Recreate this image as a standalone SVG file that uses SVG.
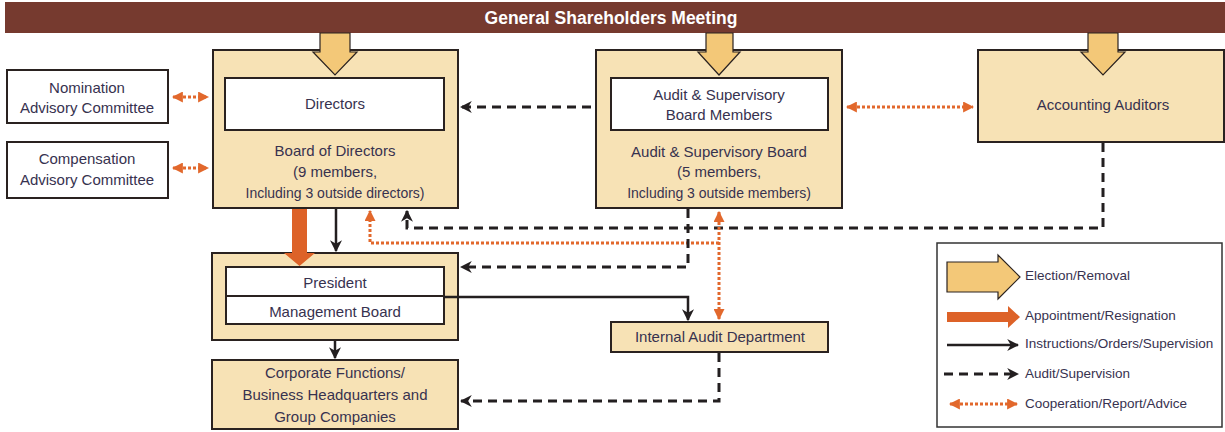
<svg xmlns="http://www.w3.org/2000/svg" width="1225" height="432" viewBox="0 0 1225 432">
<defs>
<style>
.t{font-family:"Liberation Sans Narrow","Liberation Sans",sans-serif;font-size:15px;fill:#37324f;text-anchor:middle}
.tl{font-family:"Liberation Sans Narrow","Liberation Sans",sans-serif;font-size:13.5px;fill:#37324f}
.box{fill:#f7e2b5;stroke:#2a2220;stroke-width:2}
.wbox{fill:#fff;stroke:#2a2220;stroke-width:2}
.elect{fill:#f3c878;stroke:#2a2220;stroke-width:1.2}
.dash{fill:none;stroke:#231f20;stroke-width:3;stroke-dasharray:9 6}
.solid{fill:none;stroke:#231f20;stroke-width:2.5}
.dot{fill:none;stroke:#e2682c;stroke-width:3;stroke-dasharray:3 2}
</style>
<marker id="ab" markerUnits="userSpaceOnUse" markerWidth="12" markerHeight="12" refX="9" refY="5" orient="auto-start-reverse" viewBox="0 0 10 10"><path d="M0,0 L10,5 L0,10 L3,5 z" fill="#231f20"/></marker>
<marker id="ao" markerUnits="userSpaceOnUse" markerWidth="11" markerHeight="11" refX="9" refY="5" orient="auto-start-reverse" viewBox="0 0 10 10"><path d="M0,0 L10,5 L0,10 z" fill="#e2682c"/></marker>
</defs>
<rect width="1225" height="432" fill="#fff"/>

<g id="gsm">
<rect x="5" y="2" width="1220" height="31" fill="#763a2f"/>
<text x="611" y="24" style="font-family:'Liberation Sans',sans-serif;font-size:17.5px;font-weight:bold;fill:#fff;text-anchor:middle">General Shareholders Meeting</text>
</g>

<g id="nomination">
<rect x="7" y="70" width="161" height="53" class="wbox"/>
<text x="87" y="93" class="t">Nomination</text>
<text x="87" y="113" class="t">Advisory Committee</text>
</g>
<g id="compensation">
<rect x="7" y="142" width="161" height="56" class="wbox"/>
<text x="87" y="164" class="t">Compensation</text>
<text x="87" y="185" class="t">Advisory Committee</text>
</g>

<g id="board-of-directors">
<rect x="213" y="50" width="245" height="158" class="box"/>
<rect x="225" y="78" width="219" height="52" class="wbox"/>
<text x="335" y="109" class="t">Directors</text>
<text x="335" y="156" class="t">Board of Directors</text>
<text x="335" y="177" class="t">(9 members,</text>
<text x="335" y="198" class="t" style="font-size:14px">Including 3 outside directors)</text>
</g>

<g id="audit-board">
<rect x="596" y="50" width="246" height="158" class="box"/>
<rect x="611" y="78" width="217" height="52" class="wbox"/>
<text x="719" y="100" class="t">Audit &amp; Supervisory</text>
<text x="719" y="120" class="t">Board Members</text>
<text x="719" y="157" class="t">Audit &amp; Supervisory Board</text>
<text x="719" y="177" class="t">(5 members,</text>
<text x="719" y="198" class="t" style="font-size:14px">Including 3 outside members)</text>
</g>

<g id="accounting-auditors">
<rect x="978" y="50" width="246" height="92" class="box"/>
<text x="1103" y="110" class="t">Accounting Auditors</text>
</g>

<g id="president">
<rect x="212" y="253" width="246" height="87" class="box"/>
<rect x="226" y="267" width="218" height="57" class="wbox"/>
<line x1="226" y1="296" x2="444" y2="296" stroke="#2a2220" stroke-width="2"/>
<text x="335" y="288" class="t">President</text>
<text x="335" y="317" class="t">Management Board</text>
</g>

<g id="internal-audit">
<rect x="611" y="322" width="217" height="30" class="box"/>
<text x="720" y="342" class="t">Internal Audit Department</text>
</g>

<g id="corporate">
<rect x="212" y="360" width="246" height="69" class="box"/>
<text x="335" y="378" class="t">Corporate Functions/</text>
<text x="335" y="400" class="t">Business Headquarters and</text>
<text x="335" y="422" class="t">Group Companies</text>
</g>

<g id="connectors">
<polygon class="elect" points="320,33 350,33 350,52 357,52 335,75 313,52 320,52"/>
<polygon class="elect" points="706,33 733,33 733,52 740,52 719,75 698,52 706,52"/>
<polygon class="elect" points="1088,33 1118,33 1118,52 1125,52 1103,75 1081,52 1088,52"/>
<line x1="173" y1="97" x2="208" y2="97" class="dot" marker-start="url(#ao)" marker-end="url(#ao)"/>
<line x1="173" y1="168" x2="208" y2="168" class="dot" marker-start="url(#ao)" marker-end="url(#ao)"/>
<line x1="591" y1="107" x2="461" y2="107" class="dash" marker-end="url(#ab)"/>
<line x1="847" y1="107" x2="973" y2="107" class="dot" marker-start="url(#ao)" marker-end="url(#ao)"/>
<path d="M1103,143 V228 H407 V211" class="dash" marker-end="url(#ab)"/>
<path d="M719,243 H370 V211" class="dot" marker-end="url(#ao)"/>
<line x1="719" y1="212" x2="719" y2="319" class="dot" marker-start="url(#ao)" marker-end="url(#ao)"/>
<line x1="336" y1="209" x2="336" y2="251" class="solid" marker-end="url(#ab)"/>
<path d="M292,209 H307 V253 H315 L299.5,266 L284,253 H292 Z" fill="#dd6228"/>
<path d="M688,209 V267 H461" class="dash" marker-end="url(#ab)"/>
<path d="M444,297 H688 V320" class="solid" marker-end="url(#ab)"/>
<path d="M719,353 V401 H461" class="dash" marker-end="url(#ab)"/>
<line x1="335" y1="341" x2="335" y2="358" class="solid" marker-end="url(#ab)"/>
</g>

<g id="legend">
<rect x="937" y="243" width="285" height="184" fill="#fff" stroke="#333" stroke-width="1.5"/>
<polygon class="elect" points="947,262 998,262 998,255 1020,277 998,299 998,292 947,292"/>
<text x="1025" y="280" class="tl">Election/Removal</text>
<path d="M947,312 H1008 V306 L1020,317 L1008,328 V322 H947 Z" fill="#dd6228"/>
<text x="1025" y="320" class="tl">Appointment/Resignation</text>
<line x1="947" y1="345" x2="1018" y2="345" class="solid" marker-end="url(#ab)"/>
<text x="1025" y="348" class="tl">Instructions/Orders/Supervision</text>
<line x1="944" y1="374" x2="1018" y2="374" class="dash" marker-end="url(#ab)"/>
<text x="1025" y="378" class="tl">Audit/Supervision</text>
<line x1="950" y1="404" x2="1017" y2="404" class="dot" marker-start="url(#ao)" marker-end="url(#ao)"/>
<text x="1025" y="408" class="tl">Cooperation/Report/Advice</text>
</g>
</svg>
